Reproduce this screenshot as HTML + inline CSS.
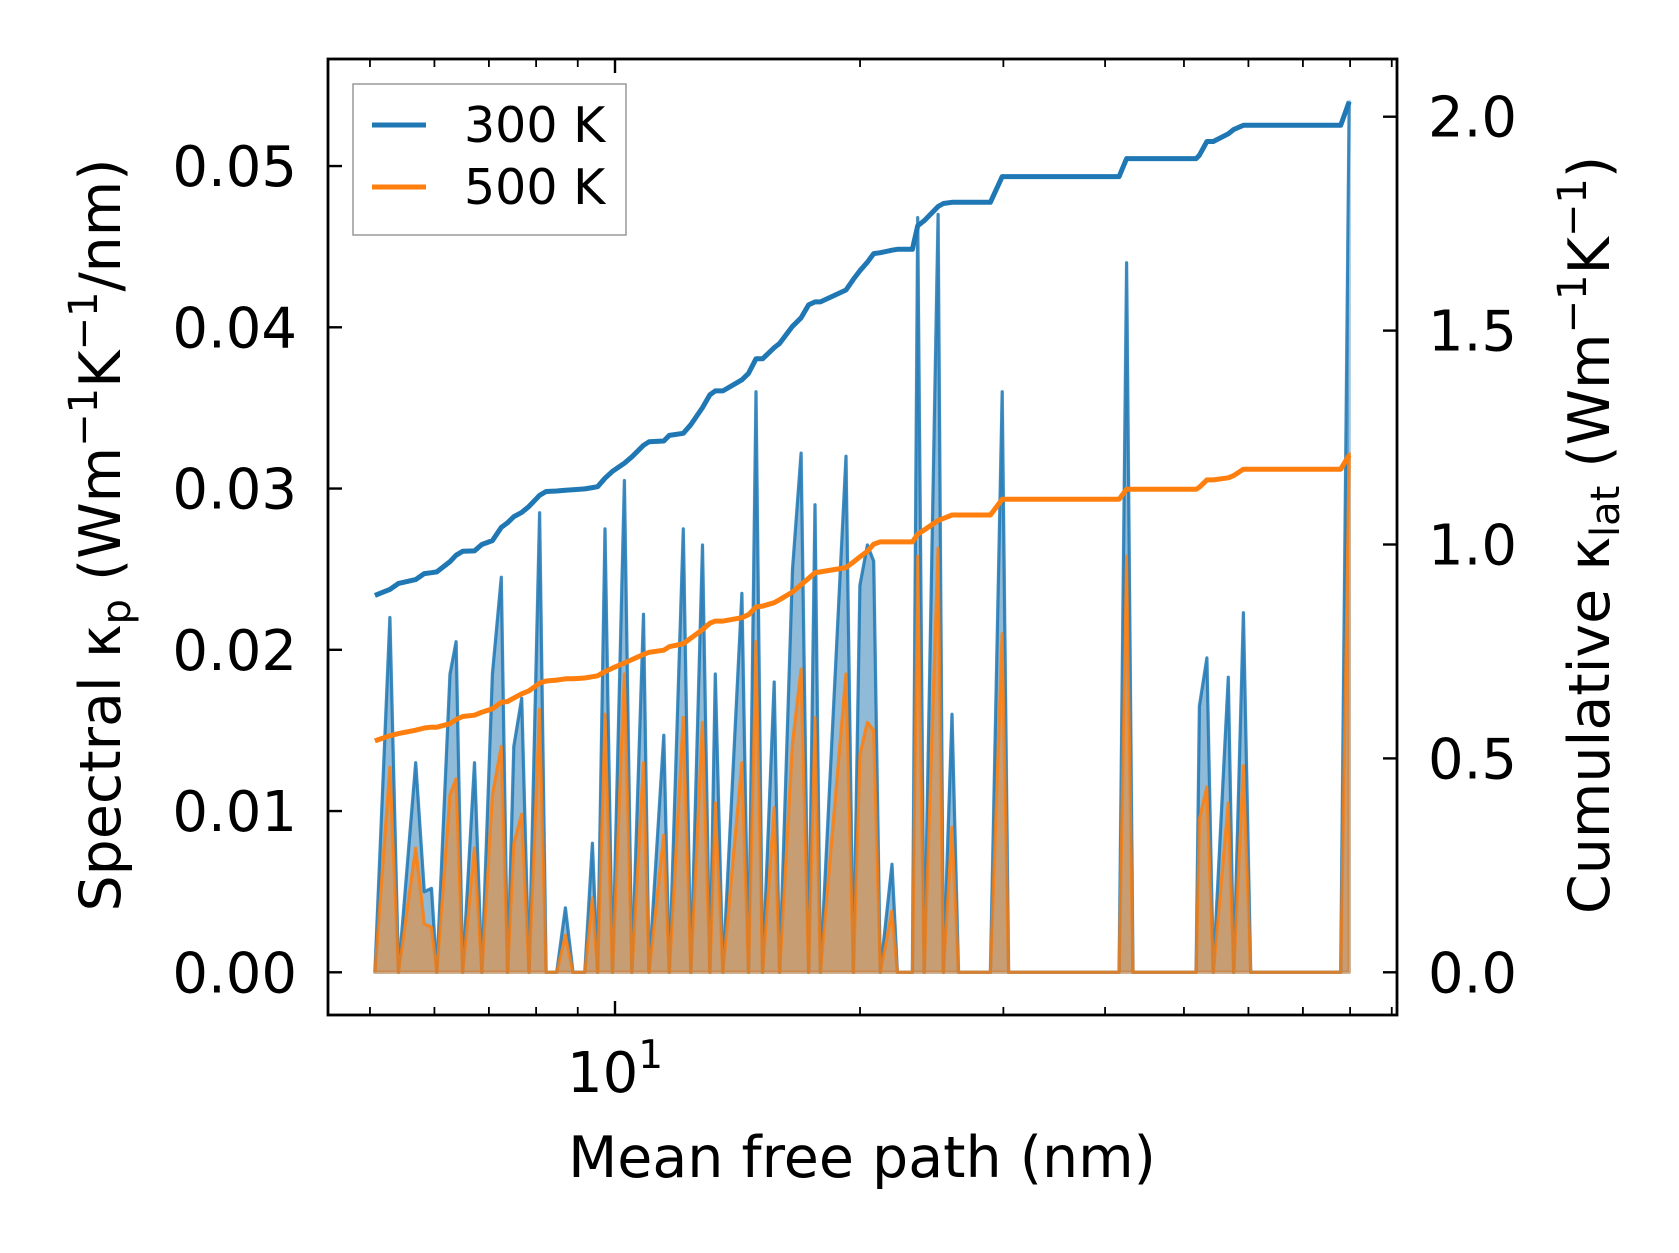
<!DOCTYPE html>
<html><head><meta charset="utf-8"><style>
html,body{margin:0;padding:0;background:#fff;}
svg{display:block;font-family:"DejaVu Sans","Liberation Sans",sans-serif;}
</style></head><body>
<svg id="chart" width="1679" height="1253" viewBox="0 0 1679 1253" xmlns="http://www.w3.org/2000/svg">
<rect x="0" y="0" width="1679" height="1253" fill="#fff"/>
<g id="marks"></g>
<g id="axes"></g>
</svg>
<script>
// Mean free path grid (nm)
const mfp = [5.07,5.29,5.42,5.69,5.83,5.95,6.04,6.27,6.38,6.50,6.72,6.86,7.07,7.25,7.38,7.51,7.68,7.84,8.08,8.23,8.48,8.69,8.88,9.18,9.38,9.52,9.72,9.93,10.27,10.49,10.84,11.01,11.48,11.66,12.13,12.39,12.81,13.08,13.28,13.57,14.32,14.59,14.90,15.18,15.69,15.93,16.52,16.93,17.29,17.61,17.88,19.22,19.63,19.99,20.42,20.79,21.18,21.89,22.23,23.19,23.54,23.98,24.94,25.32,25.94,26.42,28.92,29.90,30.45,41.62,42.51,43.29,51.75,52.23,53.35,54.33,56.68,57.55,59.15,60.39,77.89,79.80];
// Spectral kappa (W m^-1 K^-1 / nm)
const spec300 = [0,.022,0,.013,.005,.0052,0,.0185,.0205,0,.013,0,.0185,.0245,0,.014,.017,0,.0285,0,0,.004,0,0,.008,0,.0275,0,.0305,0,.0222,0,.0147,0,.0275,0,.0265,0,.0185,0,.0235,0,.036,0,.018,0,.025,.0322,0,.029,0,.032,0,.024,.0265,.0255,0,.0067,0,0,.0468,0,.047,0,.016,0,0,.036,0,0,.044,0,0,.0165,.0195,0,.0183,0,.0223,0,0,.054];
const spec500 = [0,.0127,0,.0077,.003,.0028,0,.011,.012,0,.0077,0,.011,.014,0,.008,.0098,0,.0163,0,0,.0023,0,0,.0046,0,.016,0,.0185,0,.013,0,.0085,0,.0158,0,.0155,0,.0105,0,.013,0,.0205,0,.0102,0,.0142,.0188,0,.0158,0,.0185,0,.0135,.0155,.015,0,.0038,0,0,.0258,0,.0263,0,.009,0,0,.021,0,0,.0258,0,0,.0095,.0115,0,.0105,0,.0128,0,0,.0322];
// Cumulative kappa_lat (W m^-1 K^-1)
const cum300 = [.881,.895,.909,.918,.932,.934,.936,.96,.975,.984,.985,1.0,1.009,1.04,1.051,1.065,1.075,1.089,1.115,1.124,1.125,1.127,1.128,1.13,1.133,1.135,1.155,1.171,1.19,1.205,1.232,1.24,1.242,1.255,1.26,1.28,1.32,1.35,1.359,1.359,1.385,1.4,1.434,1.434,1.46,1.47,1.51,1.53,1.56,1.567,1.567,1.595,1.62,1.64,1.66,1.68,1.682,1.688,1.69,1.69,1.745,1.757,1.79,1.797,1.8,1.8,1.8,1.86,1.86,1.86,1.902,1.902,1.902,1.91,1.942,1.942,1.96,1.97,1.98,1.98,1.98,2.035];
const cum500 = [.541,.553,.558,.566,.571,.573,.573,.581,.591,.598,.601,.608,.616,.631,.633,.641,.651,.658,.676,.681,.683,.686,.686,.688,.691,.693,.703,.711,.723,.731,.743,.748,.753,.761,.768,.781,.801,.816,.821,.821,.829,.836,.854,.856,.864,.871,.889,.906,.921,.934,.936,.946,.959,.971,.984,1.001,1.006,1.006,1.006,1.006,1.024,1.034,1.056,1.061,1.069,1.069,1.069,1.106,1.106,1.106,1.129,1.129,1.129,1.134,1.151,1.151,1.156,1.161,1.176,1.176,1.176,1.209];
const leftTicks = [0,0.01,0.02,0.03,0.04,0.05];
const leftTickLabels = ["0.00","0.01","0.02","0.03","0.04","0.05"];
const rightTicks = [0,0.5,1.0,1.5,2.0];
const rightTickLabels = ["0.0","0.5","1.0","1.5","2.0"];
const xMinorTicks = [5,6,7,8,9,20,30,40,50,60,70,80,90];
const seriesNames = ["300 K","500 K"];

const NS="http://www.w3.org/2000/svg";
const L=328,R=1397,T=59,B=1015;
const xs=m=>615+814*(Math.log10(m)-1);
const yl=v=>972.3-v*16125;
const yr=v=>972.3-v*427.8;
const marks=document.getElementById('marks'), axes=document.getElementById('axes');
function mk(tag,attrs,parent){const e=document.createElementNS(NS,tag);for(const k in attrs)e.setAttribute(k,attrs[k]);parent.appendChild(e);return e;}

function linePts(ys,arr,yf){return arr.map((v,i)=>xs(ys[i]).toFixed(1)+','+yf(v).toFixed(1)).join(' ');}
[[spec300,'#1f77b4'],[spec500,'#ff7f0e']].forEach(([arr,c],k)=>{
  const pts=linePts(mfp,arr,yl);
  const p0=xs(mfp[0]).toFixed(1)+','+yl(0).toFixed(1);
  const p1=xs(mfp[mfp.length-1]).toFixed(1)+','+yl(0).toFixed(1);
  const f=mk('polygon',{points:p0+' '+pts+' '+p1,fill:c,'fill-opacity':0.5,stroke:c,'stroke-opacity':0.35,'stroke-width':3.5,'stroke-linejoin':'round'},marks);
  
  
});
[[spec300,'#1f77b4'],[spec500,'#ff7f0e']].forEach(([arr,c],k)=>{
  const l=mk('polyline',{points:linePts(mfp,arr,yl),fill:'none',stroke:c,'stroke-width':3,'stroke-opacity':0.8,'stroke-linejoin':'round'},marks);
  
  
});
[[cum300,'#1f77b4'],[cum500,'#ff7f0e']].forEach(([arr,c],k)=>{
  const l=mk('polyline',{points:linePts(mfp,arr,yr),fill:'none',stroke:c,'stroke-width':5,'stroke-linejoin':'round'},marks);
  
  
});

const fr=mk('rect',{x:L,y:T,width:R-L,height:B-T,fill:'none',stroke:'#000','stroke-width':2.8},axes);


function tick(x1,y1,x2,y2,w){mk('line',{x1,y1,x2,y2,stroke:'#000','stroke-width':w},axes);}
leftTicks.forEach((v,i)=>{const y=yl(v);tick(L,y,L+14,y,2.4);
  const t=mk('text',{x:297,y:y+20,'text-anchor':'end','font-size':56,fill:'#000'},axes);t.textContent=leftTickLabels[i];
  
  });
rightTicks.forEach((v,i)=>{const y=yr(v);tick(R,y,R-14,y,2.4);
  const t=mk('text',{x:1428,y:y+20,'text-anchor':'start','font-size':56,fill:'#000'},axes);t.textContent=rightTickLabels[i];
  
  });
tick(xs(10),B,xs(10),B-14,2.4);tick(xs(10),T,xs(10),T+14,2.4);
xMinorTicks.forEach(m=>{const x=xs(m);tick(x,B,x,B-8,1.8);tick(x,T,x,T+8,1.8);});
</script>
<script>
const svg=document.getElementById('chart');
svg.insertAdjacentHTML('beforeend',`
<text x="${xs(10)}" y="1092" text-anchor="middle" font-size="56" fill="#000">10<tspan font-size="39" dy="-24">1</tspan></text>
<text x="862" y="1177" text-anchor="middle" font-size="57" fill="#000">Mean free path (nm)</text>
<text transform="translate(120,535) rotate(-90)" text-anchor="middle" font-size="57" fill="#000">Spectral κ<tspan font-size="40" dy="10">p</tspan><tspan dy="-10"> (Wm</tspan><tspan font-size="40" dy="-23">−1</tspan><tspan dy="23">K</tspan><tspan font-size="40" dy="-23">−1</tspan><tspan dy="23">/nm)</tspan></text>
<text transform="translate(1609,535) rotate(-90)" text-anchor="middle" font-size="57" fill="#000">Cumulative κ<tspan font-size="40" dy="10">lat</tspan><tspan dy="-10"> (Wm</tspan><tspan font-size="40" dy="-23">−1</tspan><tspan dy="23">K</tspan><tspan font-size="40" dy="-23">−1</tspan><tspan dy="23">)</tspan></text>
<g>
<rect x="353" y="84" width="273" height="151" fill="#fff" fill-opacity="0.8" stroke="#999" stroke-width="1.5"/>
<line x1="372" y1="125" x2="426" y2="125" stroke="#1f77b4" stroke-width="5"/>
<text x="464" y="142" font-size="49" fill="#000">${seriesNames[0]}</text>
<line x1="372" y1="187" x2="426" y2="187" stroke="#ff7f0e" stroke-width="5"/>
<text x="464" y="204" font-size="49" fill="#000">${seriesNames[1]}</text>
</g>`);
</script>
</body></html>
